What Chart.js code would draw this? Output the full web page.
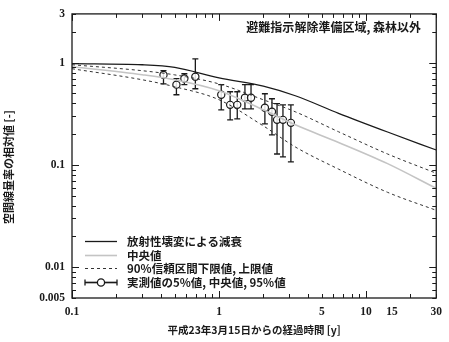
<!DOCTYPE html>
<html>
<head>
<meta charset="utf-8">
<script src="https://cdn.jsdelivr.net/npm/chart.js@4.4.0/dist/chart.umd.min.js"></script>
<style>
  html, body { margin: 0; padding: 0; background: #fff; }
  #wrap { width: 449px; height: 342px; position: relative; }
  #c { display: block; }
</style>
</head>
<body>
<div id="wrap"><canvas id="c" width="449" height="342"></canvas></div>
<script>
// Elapsed time [y] at which the model curves are tabulated
const curveTimes   = [0.1, 0.3, 0.5, 1, 2, 3.3, 6.5, 14, 30];
// Relative air dose rate: physical decay, median, 90% interval bounds
const decayCurve   = [0.98, 0.955, 0.90, 0.71, 0.59, 0.475, 0.32, 0.21, 0.14];
const medianCurve  = [0.914, 0.763, 0.681, 0.532, 0.346, 0.247, 0.166, 0.103, 0.059];
const upperCurve   = [0.955, 0.835, 0.76, 0.62, 0.434, 0.331, 0.211, 0.128, 0.083];
const lowerCurve   = [0.873, 0.681, 0.582, 0.434, 0.241, 0.150, 0.091, 0.054, 0.036];

// Measurements: elapsed time, median, 5th and 95th percentiles
const obsTimes  = [0.419, 0.513, 0.581, 0.69, 1.035, 1.19, 1.33, 1.50, 1.65, 2.05, 2.29, 2.48, 2.72, 3.08];
const obsMedian = [0.76, 0.61, 0.70, 0.73, 0.486, 0.387, 0.387, 0.454, 0.454, 0.362, 0.331, 0.276, 0.276, 0.258];
const obsP5     = [0.62, 0.486, 0.61, 0.556, 0.346, 0.276, 0.282, 0.354, 0.354, 0.252, 0.197, 0.128, 0.12, 0.107];
const obsP95    = [0.835, 0.70, 0.78, 1.09, 0.61, 0.52, 0.52, 0.61, 0.61, 0.497, 0.444, 0.397, 0.387, 0.387];

// Axis tick labels
const xTickLabels = [0.1, 1, 5, 10, 15, 30];
const yTickLabels = [0.005, 0.01, 0.1, 1, 3];

const seriesNames = [
  '放射性壊変による減衰',
  '中央値',
  '90%信頼区間下限値, 上限値',
  '実測値の5%値, 中央値, 95%値'
];
const panelTitle = '避難指示解除準備区域, 森林以外';
const xTitle = '平成23年3月15日からの経過時間 [y]';
const yTitle = '空間線量率の相対値 [-]';

const JP = '"Noto Sans CJK JP", "Noto Sans", sans-serif';
const NUM = '"Liberation Serif", "DejaVu Serif", serif';
const INK = '#1a1a1a';

const pts = (xs, ys) => xs.map((x, i) => ({ x, y: ys[i] }));

const lineDefaults = { showLine: true, pointRadius: 0, fill: false, cubicInterpolationMode: 'monotone' };

// Inward ticks on all four sides of the frame, plus the frame itself
const frameTicks = {
  id: 'frameTicks',
  afterDraw(chart) {
    const { ctx, chartArea: a, scales: { x, y } } = chart;
    ctx.save();
    ctx.strokeStyle = INK;
    ctx.lineWidth = 1.3;
    ctx.strokeRect(a.left, a.top, a.right - a.left, a.bottom - a.top);
    ctx.lineWidth = 1;
    const tick = (vals, scale, horiz) => {
      vals.forEach(v => {
        const major = Math.abs(Math.log10(v) - Math.round(Math.log10(v))) < 1e-9;
        const len = major ? 7 : 4;
        const p = Math.round(scale.getPixelForValue(v)) + 0.5;
        ctx.beginPath();
        if (horiz) {
          ctx.moveTo(p, a.bottom); ctx.lineTo(p, a.bottom - len);
          ctx.moveTo(p, a.top); ctx.lineTo(p, a.top + len);
        } else {
          ctx.moveTo(a.left, p); ctx.lineTo(a.left + len, p);
          ctx.moveTo(a.right, p); ctx.lineTo(a.right - len, p);
        }
        ctx.stroke();
      });
    };
    const logVals = (lo, hi) => {
      const out = [];
      for (let e = Math.floor(Math.log10(lo)); e <= Math.ceil(Math.log10(hi)); e++) {
        for (let k = 1; k <= 9; k++) {
          const v = k * Math.pow(10, e);
          if (v >= lo * 0.9999 && v <= hi * 1.0001) out.push(v);
        }
      }
      return out;
    };
    tick(logVals(x.min, x.max), x, true);
    tick(logVals(y.min, y.max), y, false);
    ctx.restore();
  }
};

// Vertical 5%-95% bars for the measurement series
const errorBars = {
  id: 'errorBars',
  beforeDatasetsDraw(chart) {
    const { ctx, scales: { x, y } } = chart;
    ctx.save();
    ctx.strokeStyle = INK;
    ctx.lineWidth = 1.3;
    obsTimes.forEach((t, i) => {
      const px = x.getPixelForValue(t);
      const yLo = y.getPixelForValue(obsP5[i]);
      const yHi = y.getPixelForValue(obsP95[i]);
      ctx.beginPath();
      ctx.moveTo(px, yHi); ctx.lineTo(px, yLo);
      ctx.moveTo(px - 3, yHi); ctx.lineTo(px + 3, yHi);
      ctx.moveTo(px - 3, yLo); ctx.lineTo(px + 3, yLo);
      ctx.stroke();
    });
    ctx.restore();
  }
};

// Panel title, axis titles and the legend box in the lower left
const annotations = {
  id: 'annotations',
  afterDraw(chart) {
    const { ctx, chartArea: a } = chart;
    ctx.save();
    ctx.fillStyle = INK;
    ctx.font = `bold 12px ${JP}`;
    ctx.textAlign = 'right';
    ctx.textBaseline = 'middle';
    ctx.fillText(panelTitle, 421, 27);

    ctx.font = `bold 10.5px ${JP}`;
    ctx.textAlign = 'center';
    ctx.fillText(xTitle, (a.left + a.right) / 2, 330);

    ctx.save();
    ctx.translate(9, 167);
    ctx.rotate(-Math.PI / 2);
    ctx.font = `bold 11px ${JP}`;
    ctx.fillText(yTitle, 0, 0);
    ctx.restore();

    // legend
    const ds = chart.data.datasets;
    const rows = [241, 255, 268, 282];
    const x0 = 85, x1 = 117;
    ctx.font = `bold 11.5px ${JP}`;
    ctx.textAlign = 'left';
    const draws = [ds[0], ds[1], ds[2], ds[4]];
    draws.forEach((d, i) => {
      const ry = rows[i] + 0.5;
      ctx.save();
      ctx.strokeStyle = d.borderColor;
      ctx.lineWidth = d.borderWidth;
      ctx.setLineDash(d.borderDash || []);
      ctx.beginPath();
      ctx.moveTo(x0, ry); ctx.lineTo(x1, ry);
      ctx.stroke();
      if (i === 3) {
        ctx.setLineDash([]);
        ctx.strokeStyle = INK;
        ctx.lineWidth = 1.3;
        ctx.beginPath();
        ctx.moveTo(x0, ry - 3); ctx.lineTo(x0, ry + 3);
        ctx.moveTo(x1, ry - 3); ctx.lineTo(x1, ry + 3);
        ctx.moveTo(x0, ry); ctx.lineTo(x1, ry);
        ctx.stroke();
        ctx.fillStyle = '#fff';
        ctx.beginPath();
        ctx.arc((x0 + x1) / 2, ry, 3.6, 0, Math.PI * 2);
        ctx.fill();
        ctx.stroke();
      }
      ctx.restore();
      ctx.fillText(seriesNames[i], 127, rows[i] + 1);
    });
    ctx.restore();
  }
};

new Chart(document.getElementById('c'), {
  type: 'scatter',
  data: {
    datasets: [
      { ...lineDefaults, label: seriesNames[0], data: pts(curveTimes, decayCurve),
        borderColor: INK, borderWidth: 1.3 },
      { ...lineDefaults, label: seriesNames[1], data: pts(curveTimes, medianCurve),
        borderColor: '#c4c4c4', borderWidth: 1.6 },
      { ...lineDefaults, label: seriesNames[2], data: pts(curveTimes, lowerCurve),
        borderColor: '#333', borderWidth: 1, borderDash: [3, 3] },
      { ...lineDefaults, label: seriesNames[2], data: pts(curveTimes, upperCurve),
        borderColor: '#333', borderWidth: 1, borderDash: [3, 3] },
      { label: seriesNames[3], data: pts(obsTimes, obsMedian), showLine: false,
        pointStyle: 'circle', pointRadius: 3.6, pointBorderWidth: 1.2,
        borderColor: INK, backgroundColor: '#fff', borderWidth: 1.2,
        pointBackgroundColor: 'rgba(255,255,255,0.85)', pointBorderColor: INK }
    ]
  },
  options: {
    responsive: false,
    animation: false,
    devicePixelRatio: 1,
    layout: { padding: { top: 11, right: 11, left: 0, bottom: 0 } },
    plugins: { legend: { display: false }, tooltip: { enabled: false } },
    scales: {
      x: {
        type: 'logarithmic', min: 0.1, max: 30, position: 'bottom',
        afterBuildTicks: s => { s.ticks = xTickLabels.map(v => ({ value: v })); },
        afterFit: s => { s.height = 44; },
        grid: { display: false, drawTicks: false },
        border: { display: false },
        ticks: { callback: v => String(v), autoSkip: false, maxRotation: 0, padding: 7,
                 color: INK, font: { family: NUM, size: 11.5, weight: 'bold' } }
      },
      y: {
        type: 'logarithmic', min: 0.005, max: 3,
        afterBuildTicks: s => { s.ticks = yTickLabels.map(v => ({ value: v })); },
        afterFit: s => { s.width = 72; },
        grid: { display: false, drawTicks: false },
        border: { display: false },
        ticks: { callback: v => String(v), autoSkip: false, padding: 7,
                 color: INK, font: { family: NUM, size: 11.5, weight: 'bold' } }
      }
    }
  },
  plugins: [frameTicks, errorBars, annotations]
});
</script>
</body>
</html>
